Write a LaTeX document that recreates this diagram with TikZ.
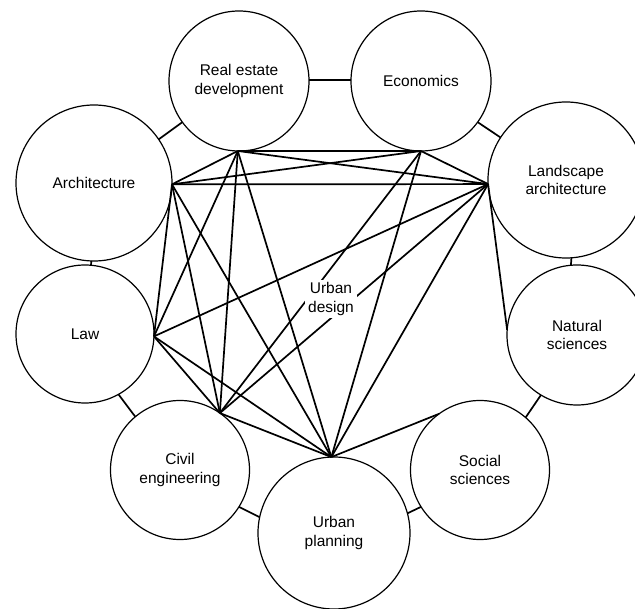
\documentclass[tikz,border=0pt]{standalone}
\usepackage{fontspec}
\setmainfont{Liberation Sans}
\begin{document}
\begin{tikzpicture}[x=1pt,y=-1pt,
  disc/.style={circle,draw,line width=1.2pt,inner sep=0pt,outer sep=0pt,align=center,
    font=\fontsize{15.5}{18.5}\selectfont},
  link/.style={line width=1.7pt},
  tie/.style={line width=1.7pt},
  lab/.style={fill=white,inner sep=3pt,align=center,font=\fontsize{15.5}{18.5}\selectfont}]
\useasboundingbox (0,0) rectangle (635,609);
\node[disc,minimum size=156pt] (arch) at (94,183) {Architecture};
\node[disc,minimum size=140pt] (real) at (239,81) {Real estate\\development};
\node[disc,minimum size=140pt] (econ) at (421,81) {Economics};
\node[disc,minimum size=156pt] (land) at (566,180) {Landscape\\architecture};
\node[disc,minimum size=140pt] (nat) at (577,335) {Natural\\sciences};
\node[disc,minimum size=139pt] (soc) at (480,470) {Social\\sciences};
\node[disc,minimum size=152pt] (urbp) at (334,533) {Urban\\planning};
\node[disc,minimum size=139pt] (civ) at (180,470) {Civil\\engineering};
\node[disc,minimum size=138pt] (law) at (85,334) {Law};
% ties between neighbours
\draw[tie] (arch.34) -- (real.216);
\draw[tie] (real.1) -- (econ.179);
\draw[tie] (econ.-36) -- (land.147);
\draw[tie] (land.-86) -- (nat.95);
\draw[tie] (nat.239) -- (soc.49);
\draw[tie] (soc.212) -- (urbp.15);
\draw[tie] (urbp.168) -- (civ.-32);
\draw[tie] (civ.130) -- (law.-61);
\draw[tie] (law.85) -- (arch.-92);
% hubs
\coordinate (hA) at (arch.-1.5);
\coordinate (hR) at (real.-91);
\coordinate (hE) at (econ.-90);
\coordinate (hL) at (land.183);
\coordinate (hN) at (nat.176);
\coordinate (hS) at (soc.126);
\coordinate (hU) at (urbp.92);
\coordinate (hC) at (civ.55);
\coordinate (hW) at (law.-2.5);
% network
\draw[link] (hA) -- (hR);
\draw[link] (hA) -- (hE);
\draw[link] (hA) -- (hL);
\draw[link] (hA) -- (hW);
\draw[link] (hA) -- (hC);
\draw[link] (hA) -- (hU);
\draw[link] (hR) -- (hE);
\draw[link] (hR) -- (hL);
\draw[link] (hR) -- (hW);
\draw[link] (hR) -- (hC);
\draw[link] (hR) -- (hU);
\draw[link] (hE) -- (hL);
\draw[link] (hE) -- (hC);
\draw[link] (hE) -- (hU);
\draw[link] (hL) -- (hW);
\draw[link] (hL) -- (hC);
\draw[link] (hL) -- (hU);
\draw[link] (hL) -- (hN);
\draw[link] (hW) -- (hC);
\draw[link] (hW) -- (hU);
\draw[link] (hC) -- (hU);
\draw[link] (hU) -- (hS);
\node[lab] (ud) at (331,299) {Urban\\design};
\end{tikzpicture}
\end{document}
